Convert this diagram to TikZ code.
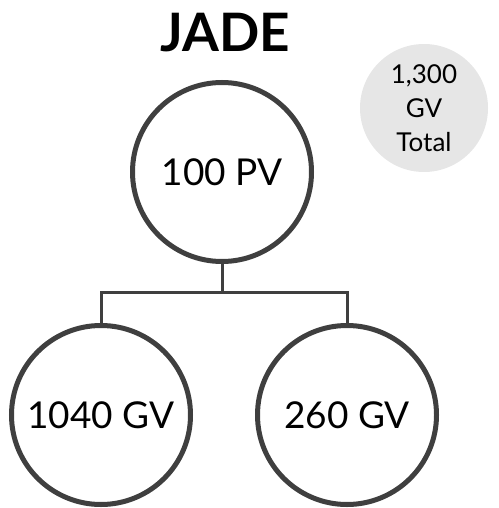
\documentclass[tikz,border=0pt]{standalone}
\usepackage{fontspec}
\setmainfont{Lato}
\definecolor{linegray}{HTML}{3F3F3F}
\definecolor{bubble}{HTML}{E6E6E6}
\begin{document}
\begin{tikzpicture}[x=1pt,y=-1pt,
  bigcircle/.style={circle,draw=linegray,line width=5pt,minimum size=179pt,inner sep=0pt,font=\fontsize{37}{44}\selectfont},
  totalcircle/.style={circle,fill=bubble,minimum size=128pt,inner sep=0pt,align=center,font=\fontsize{26}{34}\selectfont},
  conn/.style={draw=linegray,line width=3pt}]
\useasboundingbox (0,0) rectangle (498,508);
\node[font=\fontsize{53}{60}\selectfont\bfseries] (title) at (225,33) {JADE};
\node[totalcircle] (total) at (424,108) {1,300\\GV\\Total};
\node[bigcircle] (top) at (222,172) {100 PV};
\node[bigcircle] (left) at (101,415) {1040 GV};
\node[bigcircle] (right) at (347,415) {260 GV};
\coordinate (j) at (222,292);
\draw[conn] (top.south) -- (j);
\draw[conn] (left.north) |- (j) -| (right.north);
\end{tikzpicture}
\end{document}
